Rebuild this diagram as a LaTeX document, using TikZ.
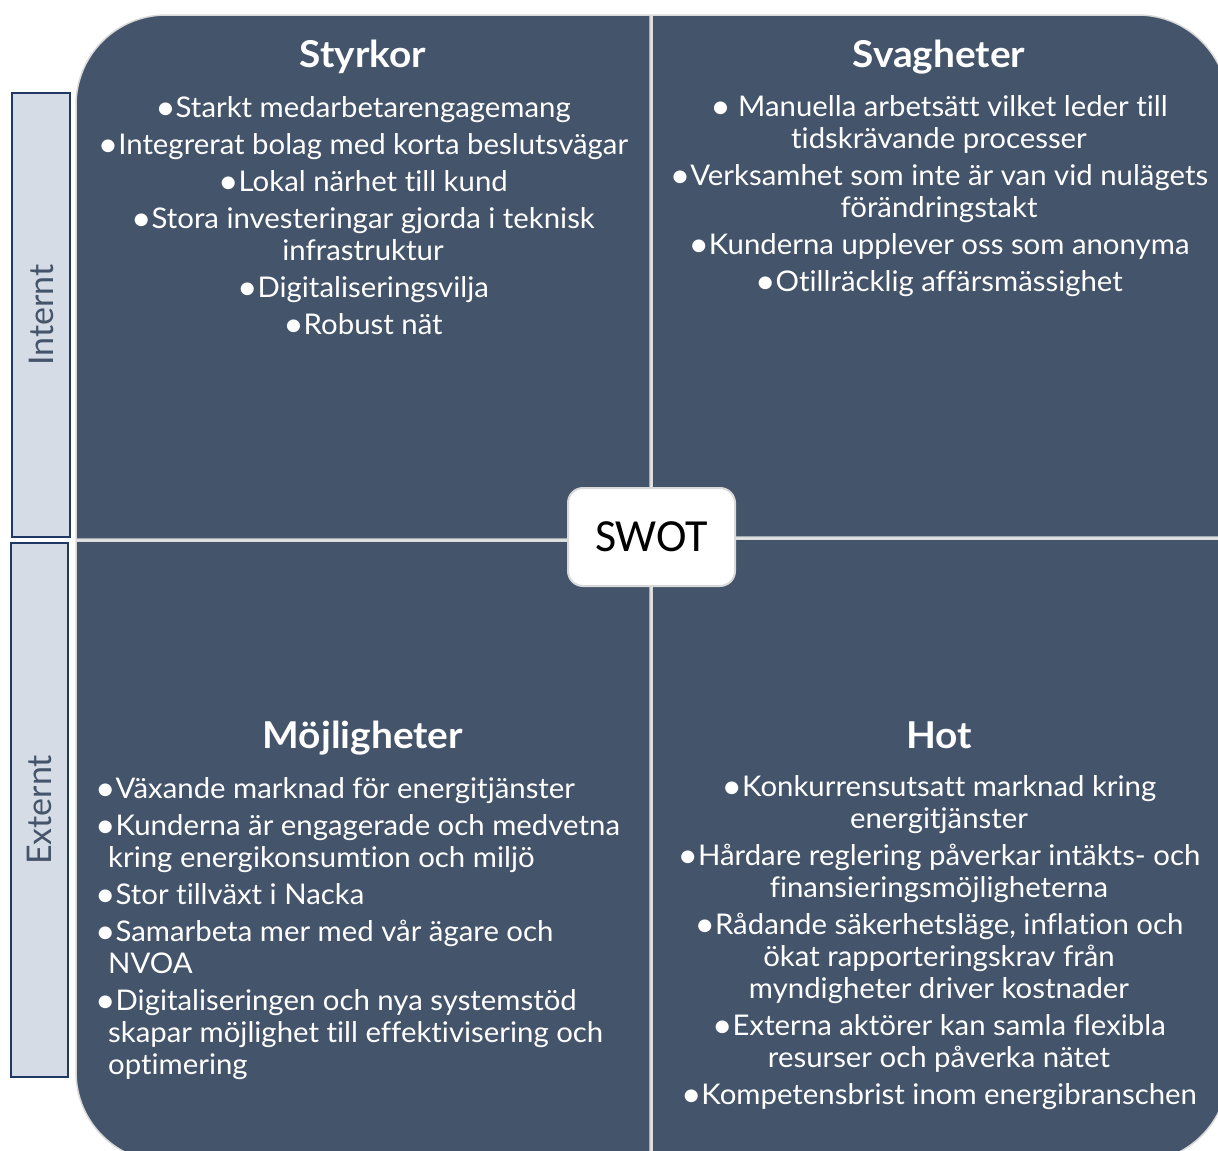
\documentclass[tikz,border=0pt]{standalone}
\usepackage{fontspec}
\setmainfont{Lato}[FakeStretch=1.03,Ligatures=NoCommon]
\newfontfamily\sidefont{Lato}[Ligatures=NoCommon]
\newfontfamily\headfont{Lato}[FakeStretch=1.05,Ligatures=NoCommon]
\newfontfamily\swotfont{Carlito}
\definecolor{slate}{HTML}{44546A}
\definecolor{sidefill}{HTML}{D6DCE5}
\definecolor{sideline}{HTML}{1F3864}
\definecolor{rimgray}{HTML}{D9D9D9}
% list bullet, a little larger than the font's own
\newcommand{\bul}{\raisebox{-0.07em}{\scalebox{1.2}{\textbullet}}}
\begin{document}
\begin{tikzpicture}[x=1pt,y=-1pt,
  quad/.style={fill=slate,draw=rimgray,line width=1.5pt},
  sidebox/.style={fill=sidefill,draw=sideline,line width=2.5pt,rotate=90,
    text=slate,font=\sidefont\fontsize{34}{38}\selectfont,inner sep=0pt},
  heading/.style={text=white,font=\headfont\bfseries\fontsize{37}{42}\selectfont,anchor=base,inner sep=0pt},
  clist/.style={text=white,font=\fontsize{28.5}{32}\selectfont,align=center,anchor=north,inner sep=0pt},
  llist/.style={text=white,font=\fontsize{28.5}{32}\selectfont,align=left,anchor=north west,inner sep=0pt},
  swotbox/.style={fill=white,draw=rimgray,line width=2pt,rounded corners=15pt,
    minimum width=167,minimum height=98,font=\swotfont\fontsize{46}{50}\selectfont}]
\useasboundingbox (0,0) rectangle (1218,1151);

% four quadrants, each with one rounded outer corner
\begin{scope}
\clip (0,0) rectangle (1218,1151);
\draw[quad] (650,539) -- (76,539) -- (76,105)
  .. controls (76,55.3) and (116.3,15) .. (166,15) -- (650,15) -- cycle;
\draw[quad] (652,537) -- (652,15) -- (1138,15)
  .. controls (1187.7,15) and (1228,55.3) .. (1228,105) -- (1228,537) -- cycle;
\draw[quad] (650,541) -- (76,541) -- (76,1072)
  .. controls (76,1121.7) and (116.3,1162) .. (166,1162) -- (650,1162) -- cycle;
\draw[quad] (652,539) -- (652,1162) -- (1138,1162)
  .. controls (1187.7,1162) and (1228,1121.7) .. (1228,1072) -- (1228,539) -- cycle;
\end{scope}

% side labels
\node[sidebox,minimum width=444,minimum height=58] (intern) at (41,315) {Internt};
\node[sidebox,minimum width=534,minimum height=57] (extern) at (39.5,810) {Externt};

% headings
\node[heading] (hS) at (363,67) {Styrkor};
\node[heading] (hW) at (939,67) {Svagheter};
\node[heading] (hO) at (363,748) {Möjligheter};
\node[heading] (hT) at (939,748) {Hot};

% lists
\node[clist] (lS) at (363,94.6) {\strut\bul Starkt medarbetarengagemang\\[5pt]
  \bul Integrerat bolag med korta beslutsvägar\\[5pt]
  \bul Lokal närhet till kund\\[5pt]
  \bul Stora investeringar gjorda i teknisk\\
  infrastruktur\\[5pt]
  \bul Digitaliseringsvilja\\[5pt]
  \bul Robust nät};

\node[clist] (lW) at (939,93.6) {\strut\bul{} Manuella arbetsätt vilket leder till\\
  tidskrävande processer\\[5pt]
  \bul Verksamhet som inte är van vid nulägets\\
  förändringstakt\\[5pt]
  \bul Kunderna upplever oss som anonyma\\[5pt]
  \bul Otillräcklig affärsmässighet};

\node[llist] (lO) at (95,775.6) {\strut\bul Växande marknad för energitjänster\\[5pt]
  \bul Kunderna är engagerade och medvetna\\
  \hspace*{13pt}kring energikonsumtion och miljö\\[5pt]
  \bul Stor tillväxt i Nacka\\[5pt]
  \bul Samarbeta mer med vår ägare och\\
  \hspace*{13pt}NVOA\\[5pt]
  \bul Digitaliseringen och nya systemstöd\\
  \hspace*{13pt}skapar möjlighet till effektivisering och\\
  \hspace*{13pt}optimering};

\node[clist] (lT) at (939,773.6) {\strut\bul Konkurrensutsatt marknad kring\\
  energitjänster\\[5pt]
  \bul Hårdare reglering påverkar intäkts- och\\
  finansieringsmöjligheterna\\[5pt]
  \bul Rådande säkerhetsläge, inflation och\\
  ökat rapporteringskrav från\\
  myndigheter driver kostnader\\[5pt]
  \bul Externa aktörer kan samla flexibla\\
  resurser och påverka nätet\\[5pt]
  \bul Kompetensbrist inom energibranschen};

% centre label
\node[swotbox] (swot) at (651.5,537) {SWOT};
\end{tikzpicture}
\end{document}
